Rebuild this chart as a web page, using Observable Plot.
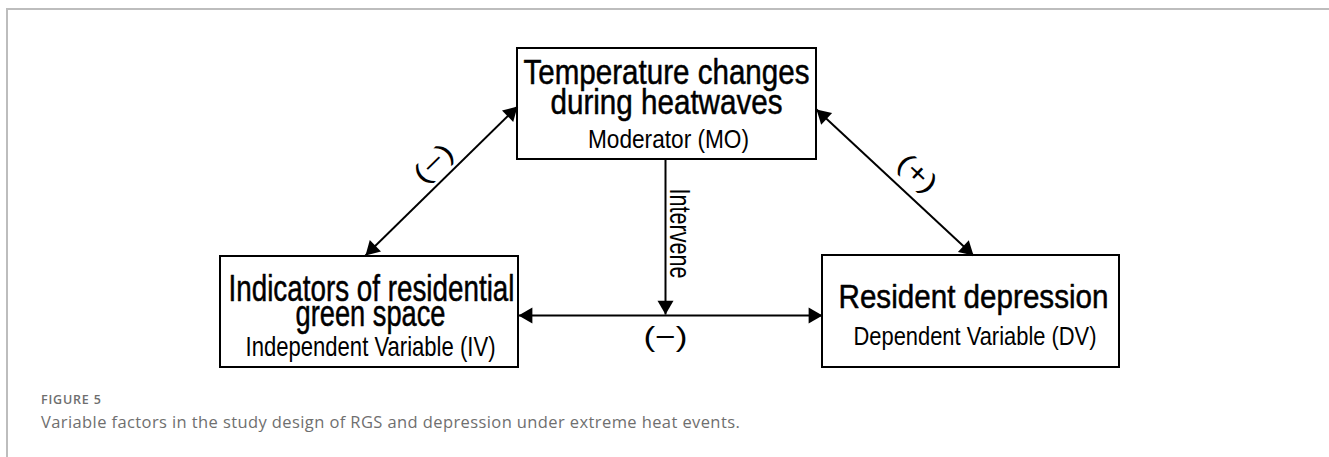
<!DOCTYPE html>
<html>
<head>
<meta charset="utf-8">
<script src="https://cdn.jsdelivr.net/npm/d3@7"></script>
<script src="https://cdn.jsdelivr.net/npm/@observablehq/plot@0.6"></script>
<style>
  html, body { margin: 0; padding: 0; background: #fff; }
  body { width: 1329px; height: 457px; overflow: hidden; position: relative; }
  #frame { position: absolute; left: 6px; top: 8px; width: 1323px; height: 449px;
           border-top: 2px solid #bdbdbd; border-left: 2px solid #bdbdbd; box-sizing: border-box; }
  #chart { position: absolute; left: 0; top: 0; }
  #figlabel { position: absolute; left: 41px; top: 392px; font: 600 12.5px/16px "Open Sans", sans-serif;
              color: #6e6e6e; letter-spacing: 0.8px; }
  #caption { position: absolute; left: 41px; top: 412px; font: 400 16.5px/20px "Open Sans", sans-serif;
             color: #6f6f6f; letter-spacing: 0.4px; white-space: nowrap; }
</style>
</head>
<body>
<div id="frame"></div>
<div id="chart"></div>
<div id="figlabel">FIGURE 5</div>
<div id="caption">Variable factors in the study design of RGS and depression under extreme heat events.</div>
<script>
// ---- content ----
const nodeIds = ["MO", "IV", "DV"];
const nodeTitles = [
  ["Temperature changes", "during heatwaves"],
  ["Indicators of residential", "green space"],
  ["Resident depression"]
];
const nodeRoles = ["Moderator (MO)", "Independent Variable (IV)", "Dependent Variable (DV)"];
const edgeFrom = ["MO", "MO", "MO", "IV"];
const edgeTo = ["IV", "DV", "IV–DV", "DV"];
const edgeLabels = ["(\u2212)", "(+)", "Intervene", "(\u2212)"];
const edgeBothHeads = [true, true, false, true];

// ---- layout (diagram coordinates) ----
const boxLayout = {
  MO: {x1: 517, x2: 816, y1: 48, y2: 159},
  IV: {x1: 220, x2: 518, y1: 256, y2: 367},
  DV: {x1: 822, x2: 1119, y1: 255, y2: 367}
};
const titleLayout = {
  MO: [{x: 666, y: 83, size: 35, w: 286}, {x: 666, y: 113, size: 35, w: 232}],
  IV: [{x: 371, y: 300, size: 36, w: 286}, {x: 370, y: 325, size: 36, w: 150}],
  DV: [{x: 973, y: 307, size: 33.5, w: 270}]
};
const roleLayout = {
  MO: {x: 668, y: 147, size: 26.5, w: 161},
  IV: {x: 370, y: 355, size: 28, w: 250},
  DV: {x: 974.5, y: 344, size: 25, w: 243}
};
const edgeLayout = [
  {x1: 517, y1: 106, x2: 365, y2: 255, lx: 433, ly: 163, rot: -44.4, size: 27, w: 44, anchor: "middle"},
  {x1: 816, y1: 109, x2: 973, y2: 255, lx: 917, ly: 173, rot: 43, size: 27, w: 44, anchor: "middle"},
  {x1: 665, y1: 159, x2: 665, y2: 314, lx: 669, ly: 233, rot: 90, size: 30, w: 90, anchor: "bottom"},
  {x1: 518, y1: 315, x2: 822, y2: 315, lx: 665, ly: 345, rot: 0, size: 27, w: 44, anchor: "bottom"}
];

// ---- build tables ----
const boxes = nodeIds.map(id => ({id, ...boxLayout[id]}));
const titles = [];
nodeIds.forEach((id, i) => nodeTitles[i].forEach((t, j) => titles.push({text: t, ...titleLayout[id][j]})));
const roles = nodeIds.map((id, i) => ({text: nodeRoles[i], ...roleLayout[id]}));
const edges = edgeFrom.map((f, i) => ({from: f, to: edgeTo[i], label: edgeLabels[i], both: edgeBothHeads[i], ...edgeLayout[i]}));

const HEAD_R = 5.94;              // triangle symbol radius
const TIP = 2 * Math.sqrt((Math.PI * HEAD_R * HEAD_R) / (3 * Math.sqrt(3))); // centroid-to-tip distance
const heads = [];
edges.forEach(e => {
  const add = (tx, ty, ox, oy) => {
    const dx = tx - ox, dy = ty - oy, L = Math.hypot(dx, dy), ux = dx / L, uy = dy / L;
    heads.push({x: tx - ux * TIP, y: ty - uy * TIP, rotate: Math.atan2(ux, -uy) * 180 / Math.PI});
  };
  add(e.x2, e.y2, e.x1, e.y1);
  if (e.both) add(e.x1, e.y1, e.x2, e.y2);
});

const FONT = "'Liberation Sans', Arial, sans-serif";
const H = 380;
const svg = Plot.plot({
  width: 1329, height: H, margin: 0,
  style: {background: "transparent", overflow: "visible"},
  x: {domain: [0, 1329], range: [0, 1329], axis: null},
  y: {domain: [0, H], range: [0, H], axis: null},
  marks: [
    Plot.rect(boxes, {x1: "x1", x2: "x2", y1: "y1", y2: "y2", fill: "white", stroke: "#000", strokeWidth: 2}),
    Plot.link(edges, {x1: "x1", y1: "y1", x2: "x2", y2: "y2", stroke: "#000", strokeWidth: 2}),
    Plot.dot(heads, {x: "x", y: "y", rotate: "rotate", symbol: "triangle", r: HEAD_R, fill: "#000", stroke: null}),
    Plot.text(titles, {x: "x", y: "y", text: "text", fontSize: "size", lineAnchor: "bottom", textAnchor: "middle",
                       fontFamily: FONT, fill: "#000", stroke: "#000", strokeWidth: 0.5}),
    Plot.text(roles, {x: "x", y: "y", text: "text", fontSize: "size", lineAnchor: "bottom", textAnchor: "middle",
                      fontFamily: FONT, fill: "#000"}),
    ...edges.map(e => Plot.text([e], {x: "lx", y: "ly", text: "label", fontSize: "size", rotate: e.rot,
                      lineAnchor: e.anchor, textAnchor: "middle", fontFamily: FONT, fill: "#000"}))
  ]
});

// fit text widths (condensed face)
const widthOf = new Map();
titles.forEach(l => widthOf.set(l.text, l.w));
roles.forEach(l => widthOf.set(l.text, l.w));
edges.forEach(e => widthOf.set(e.label, e.w));
d3.select(svg).selectAll("text").each(function () {
  const w = widthOf.get(this.textContent);
  if (w) { this.setAttribute("textLength", w); this.setAttribute("lengthAdjust", "spacingAndGlyphs"); }
});
document.getElementById("chart").appendChild(svg);
</script>
</body>
</html>
